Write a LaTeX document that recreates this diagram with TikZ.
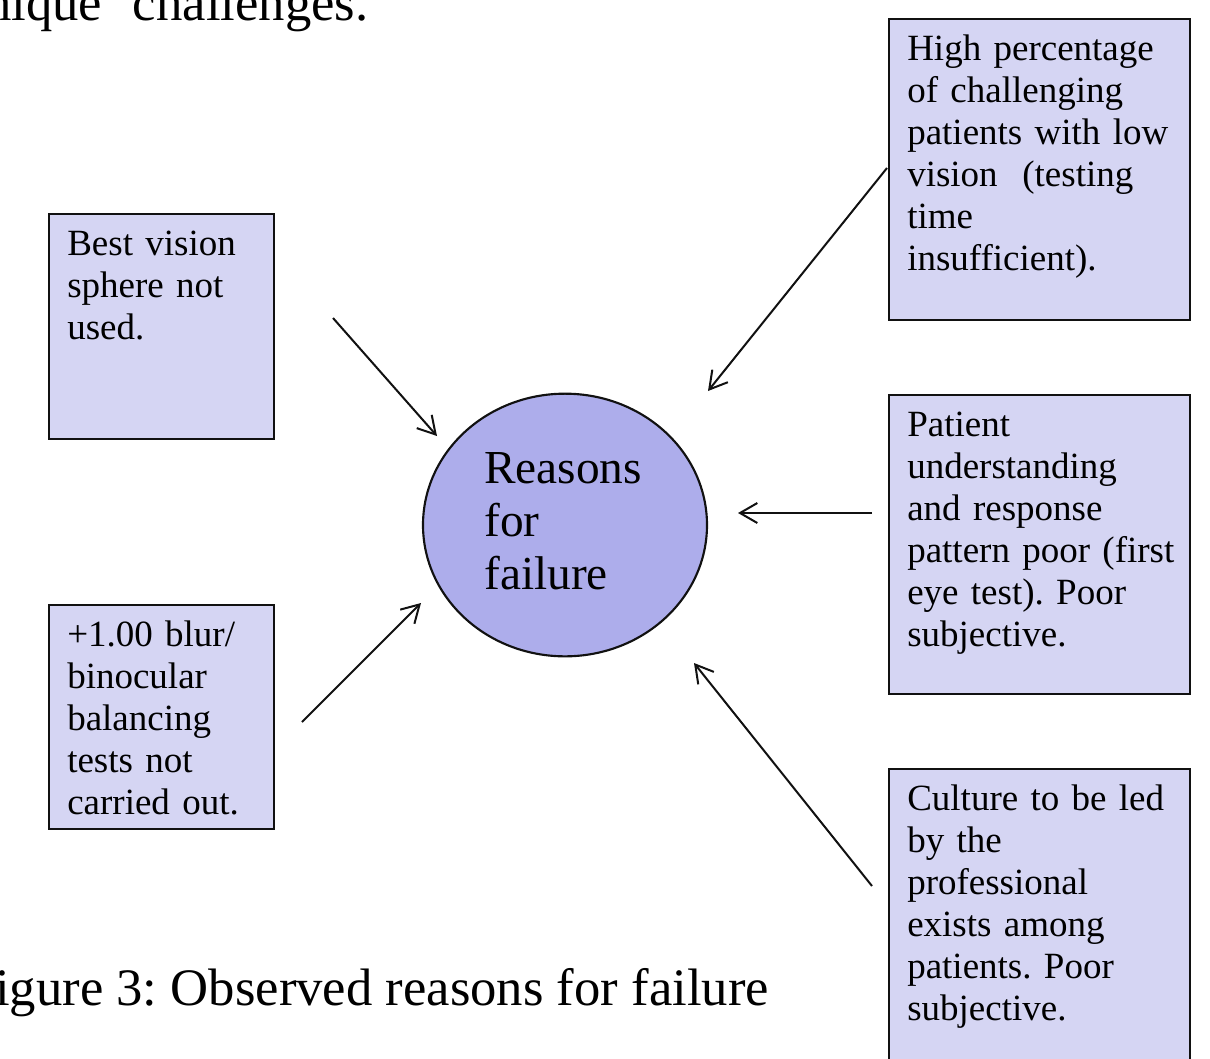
\documentclass[tikz,border=0pt]{standalone}
\usepackage{fontspec}
\setmainfont{Liberation Serif}
\usepackage{tikz}
\usetikzlibrary{shapes.geometric, arrows.meta, positioning, calc}
\definecolor{boxfill}{HTML}{D5D5F3}
\definecolor{hubfill}{HTML}{ADADEB}
\definecolor{edgeline}{HTML}{111111}
\frenchspacing

\begin{document}
\begin{tikzpicture}[
    x=0.75pt, y=-0.75pt,
    cause/.style={rectangle, draw=edgeline, fill=boxfill, line width=1.6pt, inner sep=0pt, anchor=north west},
    causetext/.style={anchor=base west, inner sep=0pt, text width=220pt, align=left, font=\fontsize{27.75}{31.5}\selectfont},
    hub/.style={ellipse, draw=edgeline, fill=hubfill, line width=1.6pt, inner sep=0pt, minimum width=213pt, minimum height=197pt},
    arrow/.style={-{Straight Barb[length=13pt, width=15pt]}, line width=1.5pt, draw=edgeline},
    pagetext/.style={anchor=base west, inner sep=0pt, font=\fontsize{39.5}{46}\selectfont}
]
\useasboundingbox (0,0) rectangle (1210,1058);
\clip (0,0) rectangle (1210,1058);

% Page text around the figure
\node[pagetext] (prevline) at (-15,20) {nique’ challenges.};
\node[pagetext] (caption) at (-5,1005) {igure 3: Observed reasons for failure};

% Centre
\node[hub] (reasons) at (565,525) {};
\node[anchor=base west, inner sep=0pt, text width=150pt, align=left, font=\fontsize{35.5}{40}\selectfont] (reasonstext) at (484,483) {Reasons\\ for\\ failure};

% Causes on the left
\node[cause, minimum width=169pt, minimum height=169pt] (sphere) at (48,213) {};
\node[causetext] (spheretext) at (67,255) {Best vision\\ sphere not\\ used.};
\node[cause, minimum width=169pt, minimum height=168pt] (blur) at (48,604) {};
\node[causetext] (blurtext) at (67,646) {+1.00 blur/\\ binocular\\ balancing\\ tests not\\ carried out.};

% Causes on the right
\node[cause, minimum width=226pt, minimum height=226pt] (lowvis) at (888,18) {};
\node[causetext] (lowvistext) at (907,60) {High percentage\\ of challenging\\ patients with low\\ vision\ \ (testing\\ time\\ insufficient).};
\node[cause, minimum width=226pt, minimum height=224pt] (response) at (888,394) {};
\node[causetext] (responsetext) at (907,436) {Patient\\ understanding\\ and response\\ pattern poor (first\\ eye test). Poor\\ subjective.};
\node[cause, minimum width=226pt, minimum height=226pt] (culture) at (888,768) {};
\node[causetext] (culturetext) at (907,810) {Culture to be led\\ by the\\ professional\\ exists among\\ patients. Poor\\ subjective.};

% Arrows into the centre
\coordinate (spheretail) at (333,318);
\coordinate (spheretip) at (437,436);
\coordinate (blurtail) at (302,722);
\coordinate (blurtip) at (421,603);
\coordinate (lowvistail) at (887,168);
\coordinate (lowvistip) at (708,391);
\coordinate (responsetail) at (872,513);
\coordinate (responsetip) at (738,513);
\coordinate (culturetail) at (872,886);
\coordinate (culturetip) at (694,663);

\draw[arrow] (spheretail) -- (spheretip);
\draw[arrow] (blurtail) -- (blurtip);
\draw[arrow] (lowvistail) -- (lowvistip);
\draw[arrow] (responsetail) -- (responsetip);
\draw[arrow] (culturetail) -- (culturetip);

\end{tikzpicture}
\end{document}
